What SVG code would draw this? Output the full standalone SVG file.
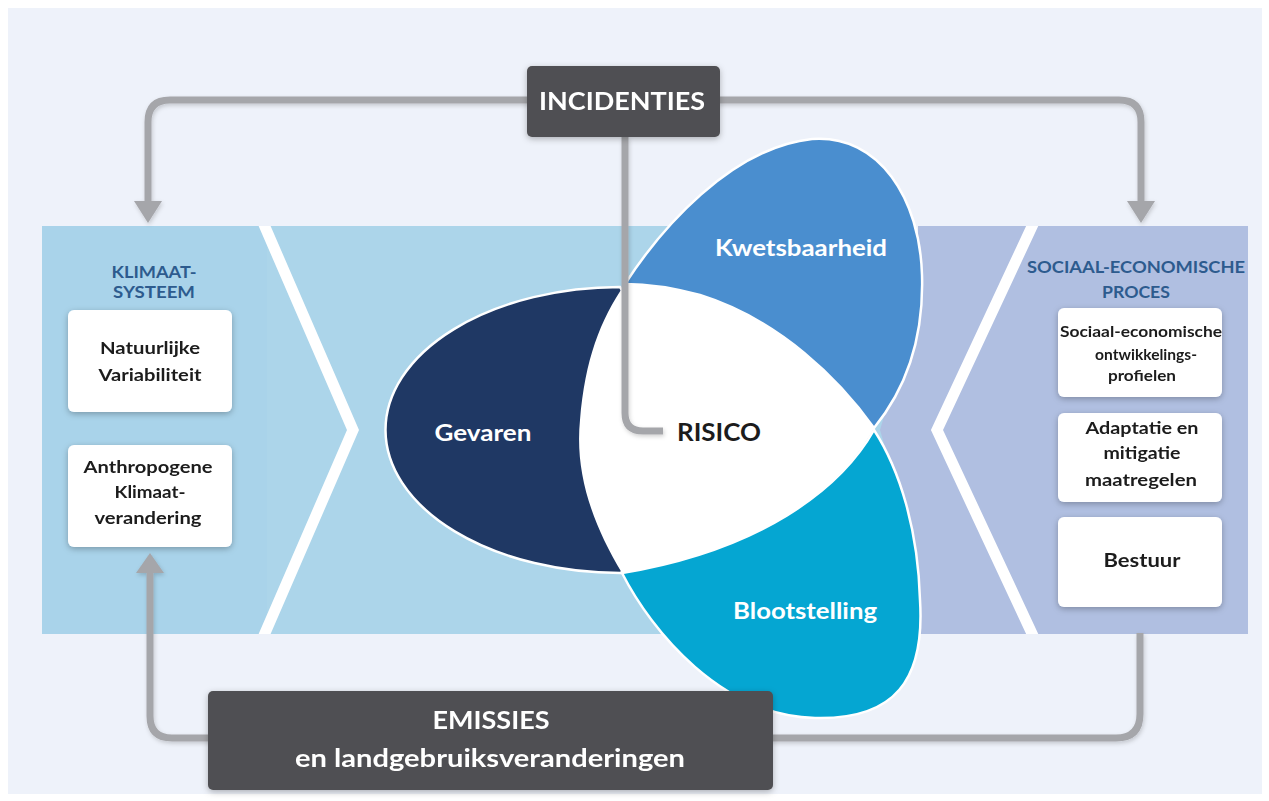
<svg xmlns="http://www.w3.org/2000/svg" width="1269" height="801" viewBox="0 0 1269 801">
<defs>
<style>
.t{font-family:Lato,"Open Sans","Liberation Sans",sans-serif;font-weight:bold;text-anchor:middle}
.dk{fill:#1c1c1c}
.wt{fill:#ffffff}
.ttl{fill:#2d5b8e}
.box{fill:#ffffff}
.dbox{fill:#505052}
.con{fill:none;stroke:#a5a6aa;stroke-width:7;stroke-linejoin:round}
.ah{fill:#a5a6aa}
.pet{stroke:#ffffff;stroke-width:2.5}
</style>
<filter id="sh" x="-20%" y="-20%" width="140%" height="140%">
<feDropShadow dx="0" dy="2" stdDeviation="3" flood-color="#000" flood-opacity="0.28"/>
</filter>
<filter id="lsh" x="-10%" y="-10%" width="120%" height="120%">
<feDropShadow dx="1" dy="2" stdDeviation="2" flood-color="#000" flood-opacity="0.18"/>
</filter>
<clipPath id="band"><rect x="42" y="226" width="1206" height="408"/></clipPath>
</defs>
<rect x="0" y="0" width="1269" height="801" fill="#ffffff"/>
<rect x="8" y="8" width="1254" height="786" fill="#eef2fa"/>

<g id="band-panels">
<rect x="42" y="226" width="850" height="408" fill="#acd5ea"/>
<rect x="42" y="226" width="225" height="408" fill="#a9d3ea"/>
<path d="M 918 226 H 1248 V 634 H 918 V 560 L 880 430 L 918 300 Z" fill="#b0bfe1"/>
<g clip-path="url(#band)">
<polyline points="262,220 353,430 262,640" fill="none" stroke="#ffffff" stroke-width="11" stroke-miterlimit="10"/>
<polyline points="1035,220 937,430 1035,640" fill="none" stroke="#ffffff" stroke-width="11" stroke-miterlimit="10"/>
</g>
</g>

<g id="klimaat">
<text class="t ttl" x="154" y="278" font-size="17" textLength="85" lengthAdjust="spacingAndGlyphs">KLIMAAT-</text>
<text class="t ttl" x="154" y="298" font-size="17" textLength="82" lengthAdjust="spacingAndGlyphs">SYSTEEM</text>
</g>
<g id="natuurlijke" filter="url(#sh)">
<rect class="box" x="68" y="310" width="164" height="102" rx="6"/>
<text class="t dk" x="150" y="354" font-size="17" textLength="100" lengthAdjust="spacingAndGlyphs">Natuurlijke</text>
<text class="t dk" x="150" y="381" font-size="17" textLength="103" lengthAdjust="spacingAndGlyphs">Variabiliteit</text>
</g>
<g id="anthropogene" filter="url(#sh)">
<rect class="box" x="68" y="445" width="164" height="102" rx="6"/>
<text class="t dk" x="148" y="473" font-size="17" textLength="129" lengthAdjust="spacingAndGlyphs">Anthropogene</text>
<text class="t dk" x="150" y="498" font-size="17" textLength="71" lengthAdjust="spacingAndGlyphs">Klimaat-</text>
<text class="t dk" x="148" y="524" font-size="17" textLength="107" lengthAdjust="spacingAndGlyphs">verandering</text>
</g>

<g id="sociaal">
<text class="t ttl" x="1136" y="273" font-size="17" textLength="218" lengthAdjust="spacingAndGlyphs">SOCIAAL-ECONOMISCHE</text>
<text class="t ttl" x="1136" y="298" font-size="17" textLength="68" lengthAdjust="spacingAndGlyphs">PROCES</text>
</g>
<g id="profielen" filter="url(#sh)">
<rect class="box" x="1058" y="308" width="164" height="89" rx="6"/>
<text class="t dk" x="1141" y="337" font-size="14.5" textLength="162" lengthAdjust="spacingAndGlyphs">Sociaal-economische</text>
<text class="t dk" x="1146" y="360" font-size="14.5" textLength="102" lengthAdjust="spacingAndGlyphs">ontwikkelings-</text>
<text class="t dk" x="1142" y="381" font-size="14.5" textLength="68" lengthAdjust="spacingAndGlyphs">profielen</text>
</g>
<g id="adaptatie" filter="url(#sh)">
<rect class="box" x="1058" y="413" width="164" height="89" rx="6"/>
<text class="t dk" x="1142" y="434" font-size="17" textLength="113" lengthAdjust="spacingAndGlyphs">Adaptatie en</text>
<text class="t dk" x="1142" y="459" font-size="17" textLength="77" lengthAdjust="spacingAndGlyphs">mitigatie</text>
<text class="t dk" x="1141" y="486" font-size="17" textLength="112" lengthAdjust="spacingAndGlyphs">maatregelen</text>
</g>
<g id="bestuur" filter="url(#sh)">
<rect class="box" x="1058" y="517" width="164" height="90" rx="6"/>
<text class="t dk" x="1142" y="567" font-size="19" textLength="77" lengthAdjust="spacingAndGlyphs">Bestuur</text>
</g>

<g id="gevaren">
<path class="pet" fill="#1f3864" d="M 620 287 A 235 143 0 0 0 621 573 L 700 430 Z"/>
<text class="t wt" x="483" y="441" font-size="22" textLength="97" lengthAdjust="spacingAndGlyphs">Gevaren</text>
</g>
<g id="kwetsbaarheid">
<path class="pet" fill="#4a8ecf" d="M 625 284 C 660 230, 730 148, 812 139 C 880 134, 920 200, 922 275 C 924 340, 905 390, 874 428 C 840 380, 780 320, 700 295 C 670 287, 645 284, 625 284 Z"/>
<text class="t wt" x="801" y="256" font-size="22" textLength="172" lengthAdjust="spacingAndGlyphs">Kwetsbaarheid</text>
</g>
<g id="blootstelling">
<path class="pet" fill="#05a6d2" d="M 622 573 C 652 632, 722 716, 815 718 C 895 720, 925 680, 920 600 C 918 530, 900 470, 874 430 C 840 490, 760 550, 622 573 Z"/>
<text class="t wt" x="805" y="619" font-size="22" textLength="144" lengthAdjust="spacingAndGlyphs">Blootstelling</text>
</g>
<g id="risico">
<path fill="#ffffff" d="M 625 284 C 645 284, 670 287, 700 295 C 780 320, 840 380, 874 428 C 840 490, 760 550, 622 573 C 590 520, 575 470, 580 420 C 585 360, 600 320, 625 284 Z"/>
<text class="t dk" x="719" y="441" font-size="25" textLength="84" lengthAdjust="spacingAndGlyphs">RISICO</text>
</g>

<g id="connectors" filter="url(#lsh)">
<path class="con" d="M 530 100 H 170 Q 148 100 148 122 V 204"/>
<polygon class="ah" points="148,223 134,201 162,201"/>
<path class="con" d="M 717 100 H 1119 Q 1141 100 1141 122 V 204"/>
<polygon class="ah" points="1141,223 1127,201 1155,201"/>
<path class="con" d="M 625 137 V 413 Q 625 431 643 431 H 663"/>
<path class="con" d="M 1140 633 V 714 Q 1140 738 1116 738 H 770"/>
<path class="con" d="M 212 738 H 172 Q 150 738 150 716 V 570"/>
<polygon class="ah" points="150,553 136,573 164,573"/>
</g>

<g id="incidenties" filter="url(#sh)">
<rect class="dbox" x="527" y="66" width="193" height="71" rx="5"/>
<text class="t wt" x="622" y="110" font-size="25" textLength="166" lengthAdjust="spacingAndGlyphs">INCIDENTIES</text>
</g>
<g id="emissies" filter="url(#sh)">
<rect class="dbox" x="208" y="691" width="565" height="99" rx="5"/>
<text class="t wt" x="491" y="729" font-size="25" textLength="117" lengthAdjust="spacingAndGlyphs">EMISSIES</text>
<text class="t wt" x="490" y="767" font-size="25" textLength="390" lengthAdjust="spacingAndGlyphs">en landgebruiksveranderingen</text>
</g>
</svg>
